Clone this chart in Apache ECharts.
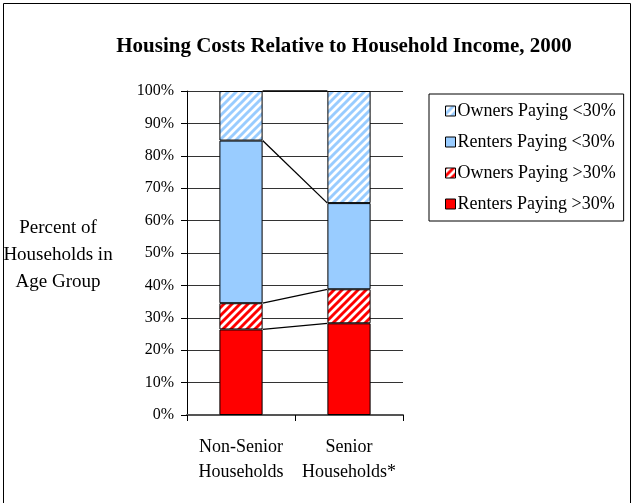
<!DOCTYPE html>
<html>
<head>
<meta charset="utf-8">
<script src="https://cdn.jsdelivr.net/npm/echarts@6/dist/echarts.min.js"></script>
<style>
  html, body { margin: 0; padding: 0; background: #fff; }
  #chart { width: 633px; height: 503px; }
</style>
</head>
<body>
<div id="chart"></div>
<script>
// Share of households by housing cost burden (percent, stacked to 100)
const categories = ['Non-Senior\nHouseholds', 'Senior\nHouseholds*'];
const rentersOver30 = [26.4, 28.3];
const ownersOver30 = [8.1, 10.5];
const rentersUnder30 = [50.2, 26.6];
const ownersUnder30 = [15.3, 34.6];
const yTicks = [0, 10, 20, 30, 40, 50, 60, 70, 80, 90, 100];

const FONT = '"Liberation Serif", "Times New Roman", serif';
const BLUE = '#99ccff';
const RED = '#ff0000';

// Diagonal stripe fill ("/") on white
function stripes(color) {
  const c = document.createElement('canvas');
  c.width = 8; c.height = 8;
  const g = c.getContext('2d');
  g.fillStyle = '#fff';
  g.fillRect(0, 0, 8, 8);
  g.strokeStyle = color;
  g.lineWidth = 2.9;
  g.beginPath();
  [[-8, 8, 8, -8], [0, 8, 8, 0], [0, 16, 16, 0], [-4, 4, 4, -4], [4, 12, 12, 4]].forEach(function (l) {
    g.moveTo(l[0], l[1]); g.lineTo(l[2], l[3]);
  });
  g.stroke();
  return { image: c, repeat: 'repeat' };
}

// Cumulative tops of each stacked layer, used for the connector lines
const layers = [rentersOver30, ownersOver30, rentersUnder30, ownersUnder30];
const tops = [];
let run = [0, 0];
layers.forEach(function (arr) {
  run = [run[0] + arr[0], run[1] + arr[1]];
  tops.push([run[0], run[1]]);
});

const chart = echarts.init(document.getElementById('chart'), null, { renderer: 'canvas' });

function barSeries(name, data, color) {
  return {
    name: name,
    type: 'bar',
    stack: 'total',
    data: data,
    barWidth: '40%',
    itemStyle: { color: color, borderColor: '#000', borderWidth: 1 },
    emphasis: { disabled: true }
  };
}

chart.setOption({
  animation: false,
  textStyle: { fontFamily: FONT, color: '#000' },
  title: {
    text: 'Housing Costs Relative to Household Income, 2000',
    left: 339, top: 31, textAlign: 'center',
    textStyle: { fontFamily: FONT, fontSize: 21, fontWeight: 'bold', color: '#000' }
  },
  grid: { left: 187, right: 230, top: 91, bottom: 88, containLabel: false },
  legend: {
    orient: 'vertical',
    left: 429, top: 94,
    padding: [8, 8, 8, 16],
    itemGap: 13,
    itemWidth: 10, itemHeight: 10,
    borderColor: '#000', borderWidth: 1,
    data: ['Owners Paying <30%', 'Renters Paying <30%', 'Owners Paying >30%', 'Renters Paying >30%'],
    itemStyle: { borderColor: '#000', borderWidth: 1 },
    textStyle: { fontFamily: FONT, fontSize: 18, color: '#000', padding: [0, 0, 0, -3] },
    icon: 'rect'
  },
  xAxis: {
    type: 'category',
    data: categories,
    axisLine: { lineStyle: { color: '#555', width: 2 } },
    axisTick: { show: true, interval: 0, length: 6, lineStyle: { color: '#000' } },
    axisLabel: { interval: 0, fontFamily: FONT, fontSize: 18, color: '#000', margin: 20, lineHeight: 25 }
  },
  yAxis: {
    type: 'value',
    min: yTicks[0], max: yTicks[yTicks.length - 1], interval: 10,
    axisLine: { show: true, lineStyle: { color: '#000', width: 1 } },
    axisTick: { show: true, length: 6, lineStyle: { color: '#000' } },
    axisLabel: { fontFamily: FONT, fontSize: 16, color: '#000', margin: 13, formatter: '{value}%' },
    splitLine: { lineStyle: { color: '#333', width: 1 } }
  },
  graphic: [
    {
      type: 'rect', silent: true,
      shape: { x: 3.5, y: 3.5, width: 627, height: 520 },
      style: { fill: 'none', stroke: '#000', lineWidth: 1 }
    },
    {
      type: 'text', silent: true,
      x: 58, y: 215,
      style: {
        text: 'Percent of\nHouseholds in\nAge Group',
        font: '19px ' + FONT, fill: '#000',
        align: 'center', verticalAlign: 'top', lineHeight: 27
      }
    }
  ],
  series: [
    barSeries('Renters Paying >30%', rentersOver30, RED),
    barSeries('Owners Paying >30%', ownersOver30, stripes(RED)),
    barSeries('Renters Paying <30%', rentersUnder30, BLUE),
    barSeries('Owners Paying <30%', ownersUnder30, stripes(BLUE)),
    {
      // connector lines between the tops of matching layers
      type: 'custom',
      silent: true,
      z: 5,
      data: tops.map(function (t) { return [0, t[0], t[1]]; }),
      encode: { x: 0, y: 1 },
      renderItem: function (params, api) {
        const half = api.size([1, 0])[0] * 0.2;
        const p1 = api.coord([0, api.value(1)]);
        const p2 = api.coord([1, api.value(2)]);
        return {
          type: 'line',
          shape: { x1: p1[0] + half, y1: p1[1], x2: p2[0] - half, y2: p2[1] },
          style: { stroke: '#000', lineWidth: 1.3 }
        };
      }
    }
  ]
});
</script>
</body>
</html>
